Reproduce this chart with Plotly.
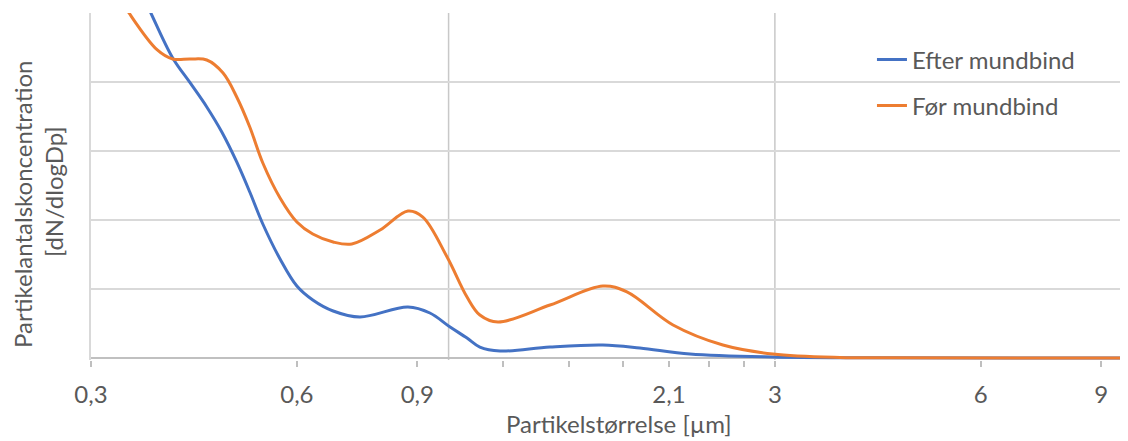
import plotly.graph_objects as go

# Particle size (µm) and concentration (arbitrary units, gridline step = 1)
size_efter = [0.354, 0.367, 0.395, 0.419, 0.443, 0.466, 0.490, 0.512, 0.535, 0.567,
              0.600, 0.633, 0.678, 0.742, 0.872, 0.939, 1.005, 1.064, 1.111, 1.189,
              1.407, 1.681, 1.904, 2.254, 2.98, 4.09, 10.0]
conc_efter = [5.333, 5.0, 4.348, 3.986, 3.638, 3.275, 2.841, 2.406, 1.942, 1.435,
              1.043, 0.841, 0.681, 0.594, 0.739, 0.652, 0.449, 0.290, 0.159, 0.101,
              0.159, 0.188, 0.145, 0.058, 0.014, 0.003, 0.0]

size_foer = [0.322, 0.341, 0.375, 0.395, 0.419, 0.443, 0.468, 0.490, 0.512, 0.535,
             0.567, 0.600, 0.633, 0.678, 0.722, 0.794, 0.872, 0.917, 0.995, 1.064,
             1.111, 1.181, 1.407, 1.681, 1.823, 2.129, 2.518, 2.98, 3.735, 4.42, 10.0]
conc_foer = [5.406, 5.0, 4.464, 4.333, 4.333, 4.319, 4.130, 3.783, 3.348, 2.826,
             2.319, 1.971, 1.797, 1.681, 1.652, 1.855, 2.130, 2.043, 1.464, 0.884,
             0.623, 0.522, 0.768, 1.043, 0.957, 0.478, 0.188, 0.058, 0.007, 0.002, 0.0]

tick_vals = [0.3, 0.6, 0.9, 2.1, 3, 6, 9]
tick_text = ["0,3", "0,6", "0,9", "2,1", "3", "6", "9"]
minor_ticks = [1.2, 1.5, 1.8, 2.4, 2.7]
major_grid = [1, 3]
y_grid = [0, 1, 2, 3, 4, 5]

FONT = "Lato"
GRAY = "#595959"

fig = go.Figure()
fig.add_trace(go.Scatter(x=size_efter, y=conc_efter, mode="lines", name="Efter mundbind",
                         line=dict(color="#4472C4", width=3, shape="spline", smoothing=1.0),
                         legendgroup="a"))
fig.add_trace(go.Scatter(x=size_foer, y=conc_foer, mode="lines", name="Før mundbind",
                         line=dict(color="#ED7D31", width=3, shape="spline", smoothing=1.0),
                         legendgroup="b"))

for gx in major_grid:
    fig.add_shape(type="line", xref="x", yref="paper", x0=gx, x1=gx, y0=0, y1=1,
                  line=dict(color="#c8c8c8", width=1.5), layer="below")

# page has an 8px body margin: figure is drawn 8px shifted, so size/margins compensate
fig.update_layout(
    width=1120, height=433,
    margin=dict(l=83, r=0, t=5, b=81),
    paper_bgcolor="white", plot_bgcolor="white",
    font=dict(family=FONT, color=GRAY, size=24),
    showlegend=True,
    legend=dict(x=0.7531, y=0.93, xanchor="left", yanchor="top",
                bgcolor="rgba(0,0,0,0)", font=dict(size=24, color=GRAY, family=FONT),
                tracegroupgap=12),
    xaxis=dict(type="log", range=[-0.52288, 0.99344],
               tickmode="array", tickvals=tick_vals, ticktext=tick_text,
               ticks="outside", ticklen=6, tickwidth=1.5, tickcolor="#bfbfbf",
               minor=dict(tickmode="array", tickvals=minor_ticks, ticks="outside",
                          ticklen=6, tickwidth=1.5, tickcolor="#bfbfbf", showgrid=False),
               showgrid=False, zeroline=False, showline=False, automargin=False,
               tickfont=dict(size=24, color=GRAY, family=FONT),
               ticklabelstandoff=7),
    yaxis=dict(range=[-0.029, 5.0], tickmode="array", tickvals=y_grid,
               showticklabels=False, ticks="", showgrid=True, gridcolor="#d9d9d9",
               gridwidth=1.5, zeroline=True, zerolinecolor="#c0c0c0", zerolinewidth=1.5,
               showline=True, linecolor="#d9d9d9", linewidth=1.5, automargin=False),
)

fig.add_annotation(text="Partikelstørrelse [µm]", xref="paper", yref="paper",
                   x=(619 - 91) / 1037, y=(360 - 423) / 347, showarrow=False,
                   xanchor="center", yanchor="middle",
                   font=dict(size=24, color=GRAY, family=FONT))
fig.add_annotation(text="Partikelantalskoncentration", xref="paper", yref="paper",
                   x=(23 - 91) / 1037, y=(360 - 205) / 347, showarrow=False, textangle=-90,
                   xanchor="center", yanchor="middle",
                   font=dict(size=24, color=GRAY, family=FONT))
fig.add_annotation(text="[dN/dlogDp]", xref="paper", yref="paper",
                   x=(54 - 91) / 1037, y=(360 - 192) / 347, showarrow=False, textangle=-90,
                   xanchor="center", yanchor="middle",
                   font=dict(size=24, color=GRAY, family=FONT))

fig.write_html("out.html")
